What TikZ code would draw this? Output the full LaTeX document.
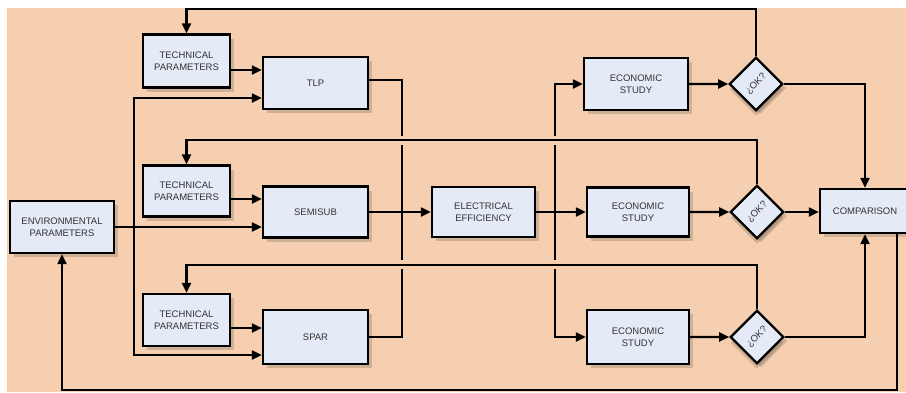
\documentclass[tikz,border=0pt]{standalone}
\usepackage{fontspec}
\setmainfont{Liberation Sans}
\usetikzlibrary{arrows.meta,shadows,calc}
\definecolor{bgc}{HTML}{F5CFAF}
\definecolor{boxc}{HTML}{E4EAF6}
\definecolor{txt}{HTML}{333333}
\begin{document}
\begin{tikzpicture}[x=1pt,y=-1pt,
  box/.style={draw=black, line width=2.3pt, fill=boxc, font=\fontsize{9.5}{12}\selectfont,
    text=txt, align=center, inner sep=0pt,
    drop shadow={shadow xshift=4pt, shadow yshift=-4pt, opacity=0.15, fill=black}},
  dia/.style={box, rotate=45, minimum width=37pt, minimum height=37pt,
    drop shadow={shadow xshift=0pt, shadow yshift=-5.5pt, opacity=0.15, fill=black}},
  link/.style={line width=2.1pt},
  con/.style={link, -{Triangle[length=10pt,width=9pt]}},
  fb/.style={con, preaction={draw=bgc, line width=9pt, -}},
]
\useasboundingbox (0,0) rectangle (906,392);
\fill[white] (0,0) rectangle (906,392);
\fill[bgc] (7,8) rectangle (906,392);

% nodes
\node[box, minimum width=87pt, minimum height=53pt] (tech1) at (186.5,61) {TECHNICAL\\PARAMETERS};
\node[box, minimum width=87pt, minimum height=51pt] (tech2) at (186.5,191) {TECHNICAL\\PARAMETERS};
\node[box, minimum width=87pt, minimum height=52pt] (tech3) at (186.5,320) {TECHNICAL\\PARAMETERS};
\node[box, minimum width=105pt, minimum height=52pt] (tlp) at (315.5,83) {TLP};
\node[box, minimum width=105pt, minimum height=51pt] (semi) at (315.5,212) {SEMISUB};
\node[box, minimum width=105pt, minimum height=54pt] (spar) at (315.5,337) {SPAR};
\node[box, minimum width=104pt, minimum height=52pt] (env) at (62,227) {ENVIRONMENTAL\\PARAMETERS};
\node[box, minimum width=103pt, minimum height=50pt] (ee) at (483.5,212) {ELECTRICAL\\EFFICIENCY};
\node[box, minimum width=104pt, minimum height=52pt] (eco1) at (636,84) {ECONOMIC\\STUDY};
\node[box, minimum width=102pt, minimum height=49pt] (eco2) at (638,212) {ECONOMIC\\STUDY};
\node[box, minimum width=102pt, minimum height=54pt] (eco3) at (638,337) {ECONOMIC\\STUDY};
\node[dia] (d1) at (756,84) {¿OK?};
\node[dia] (d2) at (757,212) {¿OK?};
\node[dia] (d3) at (757,337) {¿OK?};
\node[box, minimum width=90pt, minimum height=44pt] (comp) at (865,211) {COMPARISON};

% helper coordinates
\coordinate (t1o) at ($(tech1.east)+(0,9)$);
\coordinate (t2o) at ($(tech2.east)+(0,8)$);
\coordinate (t3o) at ($(tech3.east)+(0,8)$);
\coordinate (ej) at ($(env.east)+(19,0)$);
\coordinate (jm) at ($(semi.east)+(33,0)$);
\coordinate (je) at ($(ee.east)+(19,0)$);
\coordinate (tlpo) at ($(tlp.east)+(0,-3)$);
\coordinate (cb) at ($(comp.south east)+(-14,0)$);

% technical parameters -> platforms
\draw[con] (t1o) -- (t1o -| tlp.west);
\draw[con] (t2o) -- (t2o -| semi.west);
\draw[con] (t3o) -- (t3o -| spar.west);

% environmental parameters -> platforms
\draw[con] (env.east) -- (env.east -| semi.west);
\draw[con] (ej) |- ($(tlp.west)+(0,15)$);
\draw[con] (ej) |- ($(spar.west)+(0,18)$);

% platforms -> electrical efficiency
\draw[link] (tlpo) -| (jm);
\draw[link] (spar.east) -| (jm);
\draw[con] (semi.east) -- (semi.east -| ee.west);

% electrical efficiency -> economic studies
\draw[con] (ee.east) -- (ee.east -| eco2.west);
\draw[con] (je) |- (eco1.west);
\draw[con] (je) |- (eco3.west);

% economic studies -> decisions
\draw[con] (eco1.east) -- (d1.north west);
\draw[con] (eco2.east) -- (d2.north west);
\draw[con] (eco3.east) -- (d3.north west);

% decisions -> comparison
\draw[con] (d1.south east) -| (comp.north);
\draw[con] (d2.south east) -- (d2.south east -| comp.west);
\draw[con] (d3.south east) -| (comp.south);

% feedback loops
\draw[con] (d1.north east) |- ($(tech1.north)+(0,-24)$) -- (tech1.north);
\draw[fb] (d2.north east) |- ($(tech2.north)+(0,-24)$) -- (tech2.north);
\draw[fb] (d3.north east) |- ($(tech3.north)+(0,-28)$) -- (tech3.north);
\draw[con] (cb) |- ($(env.south)+(0,136)$) -- (env.south);
\end{tikzpicture}
\end{document}
